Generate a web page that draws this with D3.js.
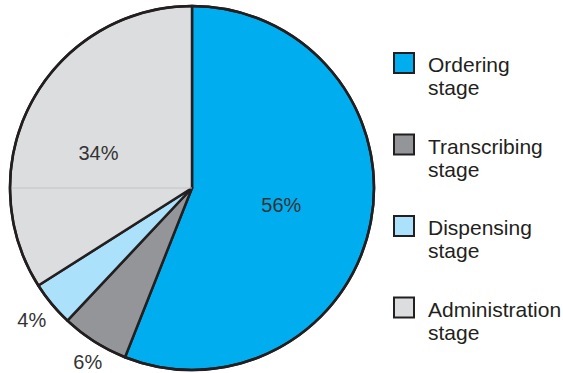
<!DOCTYPE html>
<html>
<head>
<meta charset="utf-8">
<script src="https://cdn.jsdelivr.net/npm/d3@7/dist/d3.min.js"></script>
<style>
  html, body { margin: 0; padding: 0; background: #fff; }
  svg { display: block; }
  text { font-family: "Liberation Sans", Arial, Helvetica, sans-serif; fill: #231f20; }
</style>
</head>
<body>
<svg id="chart" width="563" height="373"></svg>
<script>
// Share of medication errors by stage
const stages = ["Ordering", "Transcribing", "Dispensing", "Administration"];
const shares = [56, 6, 4, 34];
const fills = ["#00adef", "#939598", "#abe1fa", "#dcdddf"];

const svg = d3.select("#chart");
const cx = 192, cy = 188, r = 182;

const pie = d3.pie().sort(null).value(d => d.value);
const arcs = pie(stages.map((s, i) => ({ stage: s, value: shares[i], fill: fills[i] })));
const arc = d3.arc().innerRadius(0).outerRadius(r);

const g = svg.append("g").attr("transform", `translate(${cx},${cy})`);

g.selectAll("path.slice")
  .data(arcs)
  .join("path")
  .attr("class", "slice")
  .attr("d", arc)
  .attr("fill", d => d.data.fill)
  .attr("stroke", "#231f20")
  .attr("stroke-width", 2.5)
  .attr("stroke-linejoin", "round");

// faint rule across the administration slice
g.append("line")
  .attr("x1", -r + 1.5).attr("x2", 0)
  .attr("y1", 0).attr("y2", 0)
  .attr("stroke", "#c2c3c5").attr("stroke-width", 1);

// redraw outline on top so the rule sits beneath it
g.append("circle").attr("r", r).attr("fill", "none")
  .attr("stroke", "#231f20").attr("stroke-width", 2.5);

// percentage labels
const labelPos = [
  d3.arc().innerRadius(r * 0.5).outerRadius(r * 0.5),
  d3.arc().innerRadius(r * 1.1).outerRadius(r * 1.1),
  d3.arc().innerRadius(r * 1.1).outerRadius(r * 1.1),
  d3.arc().innerRadius(r * 0.58).outerRadius(r * 0.58)
];
const labelNudge = [[0, 0], [3, 5], [-6, 4], [-1, 16]];
g.selectAll("text.pct")
  .data(arcs)
  .join("text")
  .attr("class", "pct")
  .attr("transform", (d, i) => {
    const c = labelPos[i].centroid(d);
    return `translate(${c[0] + labelNudge[i][0]},${c[1] + labelNudge[i][1]})`;
  })
  .attr("text-anchor", "middle")
  .attr("dy", "0.35em")
  .style("font-size", "20px")
  .style("fill", "#333")
  .text(d => d.data.value + "%");

// legend
const legend = svg.append("g").attr("transform", "translate(393,52)");
const item = legend.selectAll("g.item")
  .data(stages)
  .join("g")
  .attr("class", "item")
  .attr("transform", (d, i) => `translate(0,${i * 81.5})`);

item.append("rect")
  .attr("x", 1).attr("y", 1)
  .attr("width", 20).attr("height", 20)
  .attr("fill", (d, i) => fills[i])
  .attr("stroke", "#231f20")
  .attr("stroke-width", 2);

const label = item.append("text")
  .attr("x", 35)
  .attr("y", 20)
  .style("font-size", "21px");
label.append("tspan").attr("x", 35).text(d => d);
label.append("tspan").attr("x", 35).attr("dy", 23).text("stage");
</script>
</body>
</html>
